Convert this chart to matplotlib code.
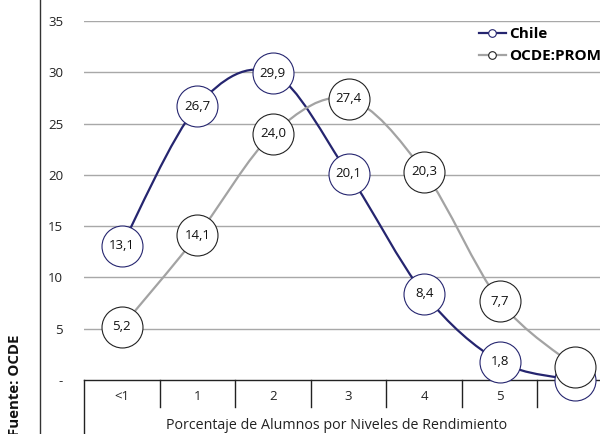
import numpy as np
import matplotlib.pyplot as plt
from matplotlib.path import Path
from matplotlib.patches import PathPatch
from matplotlib.lines import Line2D

plt.rcParams['font.family'] = ['Open Sans', 'DejaVu Sans']

# Datos
niveles = ['<1', '1', '2', '3', '4', '5', '6']
chile = [13.1, 26.7, 29.9, 20.1, 8.4, 1.8, 0.0]
ocde = [5.2, 14.1, 24.0, 27.4, 20.3, 7.7, 1.3]
etiq_chile = ['13,1', '26,7', '29,9', '20,1', '8,4', '1,8', '']
etiq_ocde = ['5,2', '14,1', '24,0', '27,4', '20,3', '7,7', '']

AZUL = '#25256f'
GRIS = '#a3a3a3'


def curva_suave(x, y):
    # Bezier tipo Catmull-Rom, como las lineas suavizadas de Excel
    p = np.column_stack([x, y])
    ext = np.vstack([p[0], p, p[-1]])
    verts = [p[0]]
    codes = [Path.MOVETO]
    for i in range(len(p) - 1):
        p0, p1, p2, p3 = ext[i], ext[i + 1], ext[i + 2], ext[i + 3]
        verts += [p1 + (p2 - p0) / 6, p2 - (p3 - p1) / 6, p2]
        codes += [Path.CURVE4] * 3
    return Path(verts, codes)


fig = plt.figure(figsize=(6, 4.34), dpi=100)
ax = fig.add_axes([84 / 600, 54 / 434, 529 / 600, 359 / 434])
x = np.arange(len(niveles))

ax.set_xlim(-0.5, 6.5)
ax.set_ylim(0, 35)
ax.set_yticks([0, 5, 10, 15, 20, 25, 30, 35])
ax.set_yticklabels(['-', '5', '10', '15', '20', '25', '30', '35'])
ax.tick_params(axis='y', length=0, pad=15, labelsize=9.5, colors='#222222')
ax.set_xticks([])
for s in ax.spines.values():
    s.set_visible(False)
for v in [5, 10, 15, 20, 25, 30, 35]:
    ax.axhline(v, color='#a8a8a8', lw=1, zorder=0)

# tabla de categorias bajo el eje
ax.plot([-0.5, 6.5], [0, 0], color='#222222', lw=1, clip_on=False, zorder=1)
ax.plot([-0.5, -0.5], [0, -5.4], color='#222222', lw=1, clip_on=False, zorder=1)
for i in range(1, 7):
    ax.plot([i - 0.5, i - 0.5], [0, -2.65], color='#222222', lw=1, clip_on=False, zorder=1)
for i, n in enumerate(niveles):
    ax.text(i, -1.65, n, ha='center', va='center', fontsize=9.5, color='#222222')
ax.text(2.84, -4.45, 'Porcentaje de Alumnos por Niveles de Rendimiento',
        ha='center', va='center', fontsize=10.3, color='#222222')

# lineas suavizadas
ax.add_patch(PathPatch(curva_suave(x, chile), fill=False, edgecolor=AZUL, lw=1.6,
                       clip_on=False, zorder=2))
ax.add_patch(PathPatch(curva_suave(x, ocde), fill=False, edgecolor=GRIS, lw=1.6,
                       clip_on=False, zorder=2))

ax.plot(x, chile, ls='none', marker='o', ms=29.5, mfc='white', mec=AZUL, mew=0.8,
        clip_on=False, zorder=3)
ax.plot(x, ocde, ls='none', marker='o', ms=29.5, mfc='white', mec='#222222', mew=0.8,
        clip_on=False, zorder=4)
for xi, yi, t in zip(x, chile, etiq_chile):
    ax.text(xi, yi, t, ha='center', va='center', fontsize=9.5, color='#111111', zorder=5)
for xi, yi, t in zip(x, ocde, etiq_ocde):
    ax.text(xi, yi, t, ha='center', va='center', fontsize=9.5, color='#111111', zorder=5)

# leyenda
h_chile = Line2D([], [], color=AZUL, lw=1.6, marker='o', ms=5.5, mfc='white', mec=AZUL, mew=0.8)
h_ocde = Line2D([], [], color=GRIS, lw=1.6, marker='o', ms=5.5, mfc='white', mec='#222222', mew=0.8)
fig.legend([h_chile, h_ocde], ['Chile', 'OCDE:PROM'], loc='upper left',
           bbox_to_anchor=(479 / 600, 1 - 27 / 434), frameon=False, handlelength=1.75,
           handletextpad=0.25, labelspacing=0.55, borderaxespad=0, borderpad=0,
           prop={'weight': 'bold', 'size': 11})

# linea vertical izquierda y fuente
fig.add_artist(Line2D([40 / 600, 40 / 600], [0, 1], color='#333333', lw=1))
fig.text(15 / 600, 49 / 434, 'Fuente: OCDE', rotation=90, ha='center', va='center',
         fontsize=10.8, fontweight='bold', color='#111111')

fig.savefig('out.png', dpi=100)
